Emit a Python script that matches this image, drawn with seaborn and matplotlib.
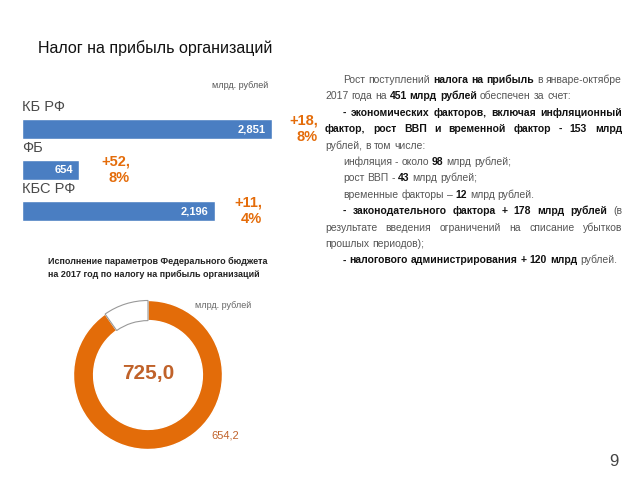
import matplotlib
matplotlib.use("Agg")
import matplotlib.pyplot as plt
import seaborn as sns
import pandas as pd

# ---------------- data ----------------
categories = ["КБ РФ", "ФБ", "КБС РФ"]
values = [2851, 654, 2196]
value_labels = ["2,851", "654", "2,196"]
growth_labels = ["+18,\n8%", "+52,\n8%", "+11,\n4%"]
growth_x = [3376, 1232, 2737]

donut_plan = 725.0
donut_done = 654.2
donut_plan_label = "725,0"
donut_done_label = "654,2"

title = "Налог на прибыль организаций"
unit = "млрд. рублей"
donut_title = "Исполнение параметров Федерального бюджета\nна 2017 год по налогу на прибыль организаций"
donut_unit = "млрд. рублей"
page_number = "9"

# text block: (indent, justified, [(text, bold), ...])
text_lines = [
    (True, True, [("Рост поступлений", False), ("налога на прибыль", True), ("в январе-октябре", False)]),
    (False, False, [("2017 года на", False), ("451 млрд рублей", True), ("обеспечен за счет:", False)]),
    (True, True, [("- экономических факторов, включая инфляционный", True)]),
    (False, True, [("фактор, рост ВВП и временной фактор - 153 млрд", True)]),
    (False, False, [("рублей, в том числе:", False)]),
    (True, False, [("инфляция - около", False), ("98", True), ("млрд рублей;", False)]),
    (True, False, [("рост ВВП -", False), ("43", True), ("млрд рублей;", False)]),
    (True, False, [("временные факторы –", False), ("12", True), (" млрд рублей.", False)]),
    (True, True, [("- законодательного фактора + 178 млрд рублей", True), ("(в", False)]),
    (False, True, [("результате введения ограничений на списание убытков", False)]),
    (False, False, [("прошлых периодов);", False)]),
    (True, False, [("- налогового администрирования + 120 млрд", True), ("рублей.", False)]),
]

# ---------------- style ----------------
sns.set_theme(style="white")
plt.rcParams["font.family"] = ["Liberation Sans", "DejaVu Sans"]

W, H = 640, 480
fig = plt.figure(figsize=(6.4, 4.8), dpi=100)
fig.patch.set_facecolor("white")

BLUE = "#4A7EC2"
ORANGE = "#E46C0A"
DONUT = "#E36C09"
BROWN = "#C0622A"


def fx(px):
    return px / W


def fy(py):
    return 1 - py / H


# title
fig.text(fx(38), fy(48), title, fontsize=11.5, color="#111111", va="center", ha="left")
fig.text(fx(268), fy(85), unit, fontsize=6.5, color="#555555", va="center", ha="right")

# ---------------- bar chart ----------------
ax = fig.add_axes([fx(22), fy(231.5), fx(250), 123 / H])
df = pd.DataFrame({"cat": categories, "val": values})
sns.barplot(data=df, x="val", y="cat", orient="h", color=BLUE, saturation=1,
            width=0.49, ax=ax)
ax.set_xlim(0, 2851)
ax.set_ylim(2.5, -0.5)
ax.axis("off")
for i, (c, v, lab, g, gx) in enumerate(zip(categories, values, value_labels, growth_labels, growth_x)):
    ax.text(0, i - 0.54, c, fontsize=10.5, color="#4a4a4a", ha="left", va="center", clip_on=False)
    ax.text(v - 75, i, lab, fontsize=8, color="white", fontweight="bold", ha="right", va="center")
    ax.text(gx, i, g, fontsize=10.5, color=ORANGE, fontweight="bold", ha="right", va="center",
            multialignment="right", linespacing=1.2, clip_on=False)

# ---------------- donut ----------------
fig.text(fx(48), fy(268), donut_title, fontsize=6.5, fontweight="bold", color="#222222",
         va="center", ha="left", linespacing=1.5)
fig.text(fx(195), fy(305), donut_unit, fontsize=6.5, color="#666666", va="center", ha="left")

axd = fig.add_axes([fx(72), fy(451), fx(152), 152 / H])
wedges, _ = axd.pie([donut_done, donut_plan - donut_done], startangle=90, counterclock=False,
                    colors=[DONUT, "white"], radius=1,
                    wedgeprops=dict(width=0.27))
wedges[0].set_edgecolor("white")
wedges[0].set_linewidth(1.0)
wedges[1].set_edgecolor("#999999")
wedges[1].set_linewidth(0.8)
axd.set_xlim(-1.02, 1.02)
axd.set_ylim(-1.02, 1.02)
axd.set_aspect("equal")
axd.axis("off")
axd.text(0, 0.02, donut_plan_label, fontsize=15, fontweight="bold", color=BROWN, ha="center", va="center")
fig.text(fx(225), fy(436), donut_done_label, fontsize=8, color=BROWN, ha="center", va="center")

# ---------------- text block ----------------
renderer = fig.canvas.get_renderer()
LEFT, INDENT, RIGHT = 325, 343, 622
y0, dy = 83, 16.4
FS = 7.5
NARROW = ["Liberation Sans Narrow", "Liberation Sans", "DejaVu Sans"]


def draw_words(words, x, y, gap):
    for w, b in words:
        t = fig.text(fx(x), fy(y), w, fontsize=FS, family=NARROW,
                     fontweight="bold" if b else "normal",
                     color="#111111" if b else "#555555", va="baseline", ha="left")
        bb = t.get_window_extent(renderer=renderer)
        x += bb.width + gap


for k, (indent, justified, segs) in enumerate(text_lines):
    y = y0 + k * dy
    x = INDENT if indent else LEFT
    words = []
    for s, b in segs:
        for w in s.split():
            words.append((w, b))
    widths = []
    for w, b in words:
        t = fig.text(0, 0, w, fontsize=FS, family=NARROW, fontweight="bold" if b else "normal")
        widths.append(t.get_window_extent(renderer=renderer).width)
        t.remove()
    space = 3.0
    if justified and len(words) > 1:
        gap = (RIGHT - x - sum(widths)) / (len(words) - 1)
    else:
        gap = space
    draw_words(words, x, y, gap)

fig.text(fx(614), fy(462), page_number, fontsize=12, color="#444444", ha="center", va="center")

fig.savefig("out.png", dpi=100)
